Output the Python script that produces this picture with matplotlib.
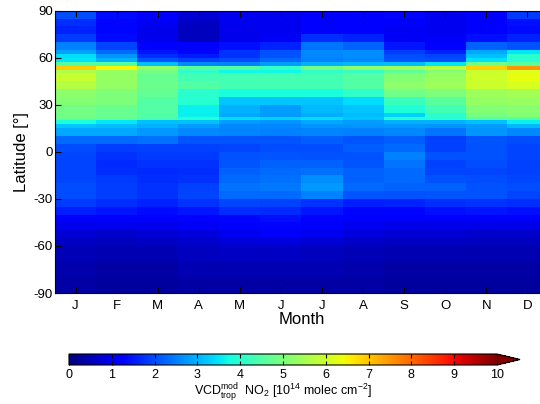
import matplotlib
matplotlib.use("Agg")
import matplotlib.pyplot as plt
import numpy as np

plt.rcParams["font.family"] = ["Liberation Sans", "DejaVu Sans"]
plt.rcParams["axes.unicode_minus"] = False
plt.rcParams["mathtext.fontset"] = "custom"
plt.rcParams["mathtext.rm"] = "Liberation Sans"
plt.rcParams["mathtext.it"] = "Liberation Sans:italic"
plt.rcParams["mathtext.default"] = "regular"

month_labels = ["J", "F", "M", "A", "M", "J", "J", "A", "S", "O", "N", "D"]

# latitude band edges, north to south
lat_edges = [90, 85, 80, 75, 70, 65, 62.5, 60, 57.5, 55, 52.5, 50, 45, 40, 35,
             30, 25, 22.5, 20, 17.5, 15, 10, 5, 0,
             -5, -10, -15, -20, -25, -30, -35, -40, -45, -50, -55, -60,
             -70, -80, -90]

# tropospheric NO2 columns [1e14 molec cm-2], one value per band (north -> south)
jan = [2.0, 1.7, 1.6, 1.8, 2.5, 2.85, 3.4, 3.5, 4.5, 6.95, 5.6, 5.9, 5.7, 5.2, 5.1,
       4.9, 4.9, 4.8, 3.85, 3.2, 2.9, 2.3, 2.0,
       1.95, 1.95, 1.95, 1.95, 2.0, 2.0, 1.8, 1.55, 1.2, 0.95, 0.75, 0.6, 0.5, 0.4, 0.35]
feb = [1.35, 1.3, 1.3, 1.35, 1.95, 2.3, 2.7, 3.0, 4.5, 6.45, 5.3, 5.3, 5.3, 5.0, 5.0,
       4.75, 4.75, 4.7, 3.55, 3.1, 2.9, 2.3, 1.85,
       1.75, 1.65, 1.7, 1.8, 1.85, 1.85, 1.7, 1.45, 1.2, 0.95, 0.7, 0.55, 0.45, 0.35, 0.3]
mar = [1.2, 1.05, 0.95, 0.95, 1.15, 1.45, 1.7, 2.1, 3.1, 5.3, 4.9, 4.75, 4.8, 4.7, 4.5,
       4.5, 4.5, 4.4, 3.15, 3.0, 2.75, 2.35, 1.9,
       1.8, 1.75, 1.65, 1.7, 1.75, 1.75, 1.6, 1.35, 1.15, 0.95, 0.75, 0.6, 0.45, 0.35, 0.3]
apr = [0.75, 0.6, 0.55, 0.55, 1.15, 1.3, 1.5, 1.9, 2.6, 4.6, 4.05, 4.3, 4.5, 4.0, 3.95,
       3.6, 3.6, 4.0, 3.15, 2.8, 2.6, 2.1, 1.9,
       1.8, 1.75, 1.7, 1.75, 1.9, 1.95, 1.75, 1.45, 1.25, 1.05, 0.85, 0.7, 0.55, 0.45, 0.35]
may = [1.0, 1.0, 0.95, 0.95, 1.4, 1.75, 1.75, 2.0, 2.55, 4.5, 3.7, 4.3, 4.3, 3.8, 3.2,
       3.0, 2.9, 3.4, 2.8, 2.6, 2.55, 2.1, 1.95,
       2.05, 2.1, 2.2, 2.3, 2.4, 2.3, 1.95, 1.7, 1.3, 1.15, 1.0, 0.8, 0.6, 0.45, 0.35]
jun = [1.0, 1.0, 1.0, 1.05, 1.6, 2.05, 2.05, 2.3, 2.8, 4.1, 3.7, 4.3, 4.3, 3.8, 3.2,
       2.8, 2.8, 3.3, 2.7, 2.6, 2.5, 2.1, 2.0,
       2.1, 2.2, 2.3, 2.35, 2.45, 2.3, 1.9, 1.65, 1.4, 1.25, 1.15, 0.85, 0.6, 0.45, 0.35]
jul = [1.15, 1.15, 1.15, 1.7, 2.4, 2.6, 2.6, 2.5, 3.0, 4.9, 4.1, 4.3, 4.3, 3.8, 3.2,
       3.05, 2.95, 3.4, 2.9, 2.7, 2.55, 2.15, 2.0,
       2.05, 2.2, 2.35, 2.65, 2.75, 2.5, 1.75, 1.45, 1.25, 1.15, 1.0, 0.75, 0.55, 0.45, 0.35]
aug = [1.2, 1.2, 1.2, 1.6, 2.2, 2.65, 2.65, 2.6, 3.05, 5.2, 4.15, 4.5, 4.5, 4.1, 3.4,
       3.2, 3.1, 3.2, 2.8, 2.7, 2.5, 2.1, 2.15,
       2.05, 2.1, 2.2, 2.2, 2.3, 2.1, 1.55, 1.3, 1.15, 1.0, 0.85, 0.65, 0.5, 0.4, 0.35]
sep = [1.3, 1.2, 1.05, 1.05, 1.45, 1.85, 2.0, 2.1, 3.1, 5.4, 4.65, 5.1, 5.2, 4.85, 4.2,
       3.9, 3.3, 4.0, 3.0, 2.75, 2.6, 2.15, 2.3,
       2.5, 2.4, 2.3, 2.3, 2.2, 2.05, 1.6, 1.3, 1.15, 0.9, 0.75, 0.6, 0.45, 0.35, 0.3]
oct_ = [1.0, 1.0, 1.0, 1.05, 1.15, 1.6, 1.95, 2.0, 3.5, 5.75, 5.1, 5.35, 5.4, 5.0, 4.6,
        4.3, 4.0, 4.0, 3.0, 2.7, 2.4, 1.9, 1.9,
        2.05, 1.9, 1.95, 2.05, 2.2, 2.1, 1.7, 1.4, 1.15, 0.9, 0.75, 0.6, 0.45, 0.35, 0.3]
nov = [1.2, 1.2, 1.2, 1.4, 2.2, 2.9, 3.15, 3.45, 4.85, 6.9, 5.9, 6.0, 5.95, 5.4, 5.3,
       5.1, 4.9, 4.6, 3.15, 2.8, 2.7, 2.1, 2.05,
       2.05, 2.0, 1.95, 2.0, 2.05, 2.05, 1.75, 1.45, 1.15, 0.9, 0.7, 0.55, 0.45, 0.35, 0.3]
dec = [1.8, 1.4, 1.35, 1.6, 2.05, 3.5, 4.0, 4.0, 4.6, 7.5, 6.2, 6.3, 6.1, 5.5, 5.35,
       5.15, 5.1, 4.6, 3.6, 3.05, 2.6, 2.0, 1.95,
       1.95, 1.9, 1.9, 1.95, 2.0, 1.95, 1.7, 1.4, 1.15, 0.9, 0.7, 0.55, 0.45, 0.35, 0.3]

vcd = np.array([jan, feb, mar, apr, may, jun, jul, aug, sep, oct_, nov, dec]).T
month_edges = np.arange(0.5, 13, 1.0)

fig = plt.figure(figsize=(5.4, 4.04), dpi=100)
ax = fig.add_axes([55 / 540, 111 / 404, 493 / 540, 282.3 / 404])

mesh = ax.pcolormesh(
    month_edges,
    lat_edges,
    vcd,
    cmap="jet",
    vmin=0,
    vmax=10,
    shading="flat",
)

ax.set_xlim(0.5, 12.5)
ax.set_ylim(-90, 90)
ax.set_xticks(np.arange(1, 13))
ax.set_xticklabels(month_labels)
ax.set_yticks(np.arange(-90, 91, 30))
ax.tick_params(direction="in", top=True, right=True, length=4, width=0.8,
               labelsize=9.5)
ax.tick_params(axis="x", pad=5)
ax.tick_params(axis="y", pad=1.5)
ax.set_xlabel("Month", fontsize=12, labelpad=0)
ax.set_ylabel("Latitude [°]", fontsize=12, labelpad=3)
for s in ax.spines.values():
    s.set_linewidth(0.8)

# colorbar
cax = fig.add_axes([69 / 540, 39 / 404, 451 / 540, 11 / 404])
cb = fig.colorbar(mesh, cax=cax, orientation="horizontal", extend="max",
                  extendfrac=0.054)
cb.set_ticks(np.arange(0, 11, 1))
cb.ax.tick_params(direction="in", top=True, bottom=True, length=3, width=0.8,
                  labelsize=9, pad=3)
cb.outline.set_linewidth(0.8)
cb.set_label(r"VCD$^{mod}_{trop}$  NO$_2$ [10$^{14}$ molec cm$^{-2}$]",
             fontsize=9, labelpad=0)

fig.savefig("out.png", dpi=100)
